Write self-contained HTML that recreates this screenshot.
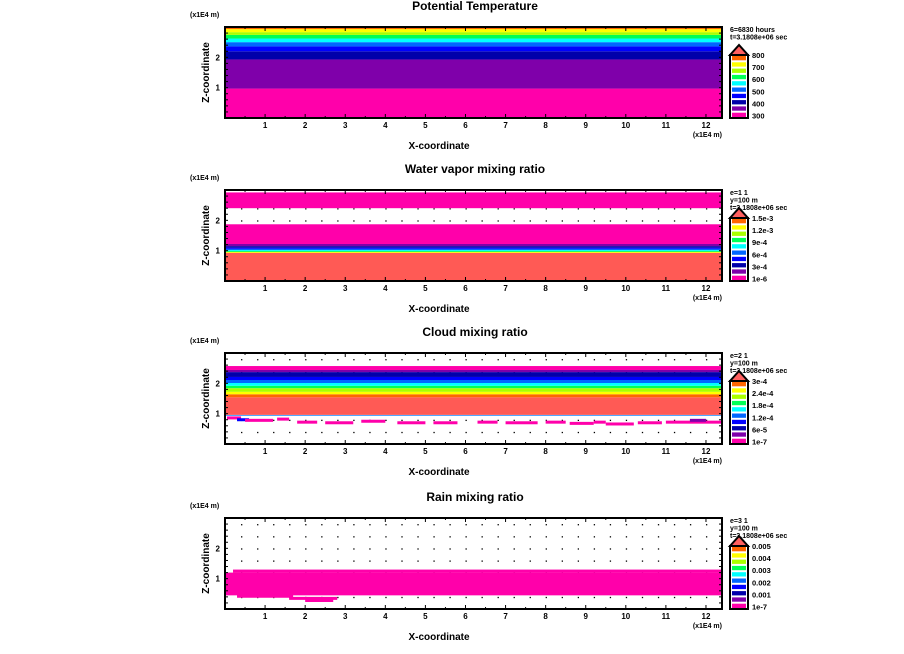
<!DOCTYPE html>
<html><head><meta charset="utf-8">
<style>
body{margin:0;background:#fff;width:904px;height:654px;overflow:hidden}
svg{display:block}
text{font-family:"Liberation Sans",sans-serif;font-weight:bold;fill:#000}
</style></head>
<body>
<svg id="c" width="904" height="654" viewBox="0 0 904 654"></svg>
<script>
// palette: 0 magenta,1 purple,2 darkblue,3 blue,4 azure,5 cyan,6 green,7 yellowgreen,8 yellow,9 orange,10 salmon
const palette=["#ff00aa","#7f00aa","#0000aa","#0000ff","#0066ff","#00ffff","#00ff55","#aaff00","#ffff00","#ff6600","#ff5a55"];
const titles=["Potential Temperature","Water vapor mixing ratio","Cloud mixing ratio","Rain mixing ratio"];
const headers=[["6=6830 hours","t=3.1808e+06 sec"],["e=1 1","y=100 m","t=3.1808e+06 sec"],["e=2 1","y=100 m","t=3.1808e+06 sec"],["e=3 1","y=100 m","t=3.1808e+06 sec"]];
const cbLabels=[["800","700","600","500","400","300"],["1.5e-3","1.2e-3","9e-4","6e-4","3e-4","1e-6"],["3e-4","2.4e-4","1.8e-4","1.2e-4","6e-5","1e-7"],["0.005","0.004","0.003","0.002","0.001","1e-7"]];
const xTicks=[1,2,3,4,5,6,7,8,9,10,11,12];
const zTicks=[1,2];
// bands per panel: [zBottom, zTop, colorIndex]
const bands1=[[0,0.97,0],[0.97,1.93,1],[1.93,2.2,2],[2.2,2.36,3],[2.36,2.5,4],[2.5,2.62,5],[2.62,2.74,6],[2.74,2.83,7],[2.83,2.93,8],[2.93,3.0,9]];
const bands2=[[0,0.93,10],[0.93,0.96,8],[0.96,0.99,6],[0.99,1.02,5],[1.02,1.06,4],[1.06,1.1,3],[1.1,1.15,2],[1.15,1.22,1],[1.22,1.87,0],[2.4,2.92,0]];
const bands3=[[0.93,0.945,3],[0.945,0.96,5],[0.96,1.54,10],[1.54,1.64,9],[1.64,1.72,8],[1.72,1.84,7],[1.84,1.92,6],[1.92,2.01,5],[2.01,2.11,4],[2.11,2.21,3],[2.21,2.37,2],[2.37,2.44,1],[2.44,2.57,0]];
const bands4=[[0.45,1.2,0]];
// scattered blobs: [x0,x1,z,colorIndex]
const blobs3=[[0.05,0.4,0.86,0],[0.3,0.6,0.8,3],[0.5,1.2,0.78,0],[1.3,1.6,0.82,0],[1.8,2.3,0.72,0],[2.5,3.2,0.7,0],[3.4,4.0,0.75,0],[4.3,5.0,0.7,0],[5.2,5.8,0.7,0],[6.3,6.8,0.72,0],[7.0,7.8,0.7,0],[8.0,8.5,0.72,0],[8.6,9.2,0.68,0],[9.2,9.5,0.72,0],[9.5,10.2,0.66,0],[10.3,10.9,0.7,0],[11.0,12.4,0.72,0],[11.6,12.0,0.78,1]];
const blobs4=[[0.3,1.7,0.42,0],[1.6,2.8,0.35,0],[2.0,2.7,0.28,0],[0.2,12.4,1.25,0]];
const panels=[{top:27,bands:bands1,blobs:[],dots:false},{top:190,bands:bands2,blobs:[],dots:true},{top:353,bands:bands3,blobs:blobs3,dots:true},{top:518,bands:bands4,blobs:blobs4,dots:true}];
const NS="http://www.w3.org/2000/svg",svg=document.getElementById("c");
const L=225,R=722,H=91,XMAX=12.4,ZMAX=3;
function el(t,a,p){const e=document.createElementNS(NS,t);for(const k in a)e.setAttribute(k,a[k]);(p||svg).appendChild(e);return e;}
panels.forEach((p,i)=>{
  const g=el("g",{});
  
  
  const xs=v=>L+v/XMAX*(R-L), zs=v=>p.top+H-v/ZMAX*H;
  const t=el("text",{x:475,y:p.top-17,"text-anchor":"middle","font-size":12},g);t.textContent=titles[i];
  
  const u=el("text",{x:190,y:p.top-10,"font-size":7},g);u.textContent="(x1E4 m)";
  
  if(p.dots){for(let x=0.4;x<XMAX;x+=0.4)for(let z=0.4;z<ZMAX;z+=0.4){el("rect",{x:xs(x),y:zs(z),width:1.3,height:1.3,fill:"#000"},g);}}
  p.bands.forEach(b=>{const r=el("rect",{x:L,y:zs(b[1]),width:R-L,height:zs(b[0])-zs(b[1]),fill:palette[b[2]]},g);
    });
  p.blobs.forEach(b=>{const r=el("rect",{x:xs(b[0]),y:zs(b[2])-1.5,width:xs(b[1])-xs(b[0]),height:3,fill:palette[b[3]]},g);
    });
  const f=el("rect",{x:L,y:p.top,width:R-L,height:H,fill:"none",stroke:"#000","stroke-width":2},g);
  
  for(let x=0.5;x<XMAX;x+=0.5){const big=Number.isInteger(x);el("line",{x1:xs(x),x2:xs(x),y1:p.top+H,y2:p.top+H-(big?4:2),stroke:"#000"},g);el("line",{x1:xs(x),x2:xs(x),y1:p.top,y2:p.top+(big?4:2),stroke:"#000"},g);}
  for(let z=0.2;z<ZMAX;z+=0.2){el("line",{x1:L,x2:L+3,y1:zs(z),y2:zs(z),stroke:"#000"},g);el("line",{x1:R,x2:R-3,y1:zs(z),y2:zs(z),stroke:"#000"},g);}
  xTicks.forEach(v=>{const tt=el("text",{x:xs(v),y:p.top+H+10,"text-anchor":"middle","font-size":8},g);tt.textContent=v;
    });
  zTicks.forEach(v=>{const tt=el("text",{x:L-5,y:zs(v)+3,"text-anchor":"end","font-size":8},g);tt.textContent=v;
    });
  const xu=el("text",{x:R,y:p.top+H+19,"text-anchor":"end","font-size":7},g);xu.textContent="(x1E4 m)";
  
  const xt=el("text",{x:439,y:p.top+H+31,"text-anchor":"middle","font-size":10},g);xt.textContent="X-coordinate";
  
  const zt=el("text",{x:0,y:0,"text-anchor":"middle","font-size":10,transform:`translate(209,${p.top+H/2}) rotate(-90)`},g);zt.textContent="Z-coordinate";
  
  headers[i].forEach((h,j)=>{const ht=el("text",{x:730,y:p.top+5+j*7.5,"font-size":7,"font-weight":"normal"},g);ht.textContent=h;
    });
  const cg=el("g",{},g);
  const cbTop=p.top+28,cbBot=p.top+H,sw=(cbBot-cbTop)/10;
  el("polygon",{points:`730,${cbTop} 739,${cbTop-10} 748,${cbTop}`,fill:"#ff6060",stroke:"#000","stroke-width":2},cg);
  el("rect",{x:730,y:cbTop,width:18,height:cbBot-cbTop,fill:"#fff",stroke:"#000","stroke-width":2},cg);
  const order=[9,8,7,6,5,4,3,2,1,0];
  order.forEach((c,k)=>el("rect",{x:732,y:cbTop+k*sw+1,width:14,height:sw-2,fill:palette[c]},cg));
  cbLabels[i].forEach((s,k)=>{const lt=el("text",{x:752,y:cbTop+k*2*sw*0.96+3,"font-size":7.5},cg);lt.textContent=s;
    });
});
</script>
</body></html>
